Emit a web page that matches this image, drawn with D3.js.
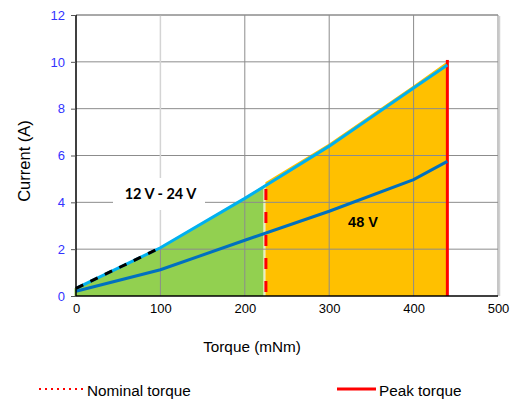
<!DOCTYPE html>
<html>
<head>
<meta charset="utf-8">
<script src="https://cdn.jsdelivr.net/npm/d3@7/dist/d3.min.js"></script>
<style>
  body { margin: 0; background: #fff; }
  svg { display: block; }
  text { font-family: "Liberation Sans", Arial, sans-serif; }
</style>
</head>
<body>
<svg width="513" height="401"></svg>
<script>
// chart data
const torque = [0, 100, 200, 300, 400, 440];
const current1224 = [0.33, 2.06, 4.17, 6.4, 8.88, 9.86];
const current48 = [0.2, 1.12, 2.38, 3.62, 4.97, 5.75];

// shaded operating zones
const greenTorque = [0, 100, 200, 225];
const greenTop = [0.33, 2.06, 4.17, 4.74];
const orangeTorque = [225, 300, 400, 440];
const orangeTop = [4.86, 6.5, 8.98, 10.0];

const nominalTorque = 225, nominalTop = 4.57;
const peakTorque = 440, peakTop = 10.08;

const xTicks = [0, 100, 200, 300, 400, 500];
const yTicks = [0, 2, 4, 6, 8, 10, 12];

const svg = d3.select("svg");
const x = d3.scaleLinear().domain([0, 500]).range([76, 498]);
const y = d3.scaleLinear().domain([0, 12]).range([296, 15]);

// areas
const area = d3.area().x(d => x(d[0])).y0(y(0)).y1(d => y(d[1]));
svg.append("path")
    .attr("d", area(d3.zip(greenTorque, greenTop)))
    .attr("transform", "translate(-1.5,0)")
    .style("fill", "#92D050");
svg.append("path")
    .attr("d", area(d3.zip(orangeTorque, orangeTop)))
    .attr("transform", "translate(-0.5,0)")
    .style("fill", "#FFC000");
// thin pale seam between zones
svg.append("line")
    .attr("x1", x(nominalTorque) - 2).attr("x2", x(nominalTorque) - 2)
    .attr("y1", y(0)).attr("y2", y(4.6))
    .style("stroke", "#fdf6d8").style("stroke-width", 1);

// grid
const grid = svg.append("g");
yTicks.slice(1).forEach(v => {
    grid.append("line")
        .attr("x1", x(0)).attr("x2", x(500))
        .attr("y1", y(v)).attr("y2", y(v))
        .style("stroke", "#8c8c8c").style("stroke-width", 1);
});
xTicks.slice(1, 5).forEach(v => {
    // the 100 line is pale above the curve
    const top = v === 100 ? y(current1224[1]) : y(12);
    if (v === 100) {
        grid.append("line")
            .attr("x1", x(v)).attr("x2", x(v))
            .attr("y1", y(12)).attr("y2", top)
            .style("stroke", "#d4d4d4").style("stroke-width", 1.5);
    }
    grid.append("line")
        .attr("x1", x(v)).attr("x2", x(v))
        .attr("y1", top).attr("y2", y(0))
        .style("stroke", "#8c8c8c").style("stroke-width", 1);
});

// plot frame: grey top/right, black left/bottom
svg.append("line").attr("x1", x(0)).attr("x2", x(500)).attr("y1", y(12)).attr("y2", y(12))
    .style("stroke", "#8c8c8c").style("stroke-width", 1);
svg.append("line").attr("x1", x(500)).attr("x2", x(500)).attr("y1", y(12)).attr("y2", y(0))
    .style("stroke", "#8c8c8c").style("stroke-width", 1);
svg.append("line").attr("x1", x(500) + 1.5).attr("x2", x(500) + 1.5).attr("y1", y(12) + 1).attr("y2", y(0))
    .style("stroke", "#d0d0d0").style("stroke-width", 1.5);

// label box for 12 V - 24 V
svg.append("rect")
    .attr("x", 113).attr("y", 178).attr("width", 92).attr("height", 32)
    .style("fill", "#fff");
svg.append("text")
    .attr("x", 160.5).attr("y", 198.5)
    .attr("text-anchor", "middle")
    .style("font-family", "Lato, 'Open Sans', sans-serif")
    .style("font-weight", "bold").style("font-size", "14.5px")
    .text("12 V - 24 V");

// nominal / peak markers
svg.append("line")
    .attr("x1", x(nominalTorque)).attr("x2", x(nominalTorque))
    .attr("y1", y(nominalTop)).attr("y2", y(0))
    .style("stroke", "#FF0000").style("stroke-width", 3)
    .style("stroke-dasharray", "11,12");
svg.append("line")
    .attr("x1", x(peakTorque)).attr("x2", x(peakTorque))
    .attr("y1", y(peakTop)).attr("y2", y(0))
    .style("stroke", "#FF0000").style("stroke-width", 3);

// curves
const line = d3.line().x(d => x(d[0])).y(d => y(d[1]));
svg.append("path")
    .attr("d", line(d3.zip(torque, current48)))
    .style("fill", "none").style("stroke", "#0070C0").style("stroke-width", 3);
svg.append("path")
    .attr("d", line(d3.zip(torque, current1224)))
    .style("fill", "none").style("stroke", "#00B0F0").style("stroke-width", 3);
// dashed start of the upper curve
const first = d3.zip(torque.slice(0, 2), current1224.slice(0, 2));
svg.append("path")
    .attr("d", line(first))
    .style("fill", "none").style("stroke", "#000").style("stroke-width", 3)
    .style("stroke-dasharray", "8,8");

svg.append("text")
    .attr("x", 363).attr("y", 227)
    .attr("text-anchor", "middle")
    .style("font-weight", "bold").style("font-size", "14.5px")
    .text("48 V");

// axes
svg.append("line").attr("x1", x(0)).attr("x2", x(0)).attr("y1", y(12)).attr("y2", y(0))
    .style("stroke", "#000").style("stroke-width", 1.5);
svg.append("line").attr("x1", x(0)).attr("x2", x(500)).attr("y1", y(0)).attr("y2", y(0))
    .style("stroke", "#000").style("stroke-width", 1.5);

const yAxis = svg.append("g")
    .attr("transform", `translate(${x(0)},0)`)
    .call(d3.axisLeft(y).tickValues(yTicks).tickSize(5).tickPadding(6));
yAxis.select(".domain").remove();
yAxis.selectAll(".tick line").style("stroke", "#555");
yAxis.selectAll(".tick text")
    .style("font-family", "'Liberation Sans', Arial, sans-serif")
    .style("font-size", "13px").style("fill", "#3333FF");

const xAxis = svg.append("g")
    .attr("transform", `translate(0,${y(0)})`)
    .call(d3.axisBottom(x).tickValues(xTicks).tickSize(0).tickPadding(8));
xAxis.select(".domain").remove();
xAxis.selectAll(".tick text")
    .style("font-family", "'Liberation Sans', Arial, sans-serif")
    .style("font-size", "13px").style("fill", "#000");

// axis titles
svg.append("text")
    .attr("transform", "translate(30,161) rotate(-90)")
    .attr("text-anchor", "middle")
    .style("font-size", "16.5px")
    .text("Current (A)");
svg.append("text")
    .attr("x", 252).attr("y", 351.5)
    .attr("text-anchor", "middle")
    .style("font-size", "15.3px")
    .text("Torque (mNm)");

// legend
const legend = svg.append("g");
legend.append("line")
    .attr("x1", 39).attr("x2", 83).attr("y1", 389).attr("y2", 389)
    .style("stroke", "#FF0000").style("stroke-width", 2)
    .style("stroke-dasharray", "2,4");
legend.append("text")
    .attr("x", 87).attr("y", 396)
    .style("font-size", "15.3px")
    .text("Nominal torque");
legend.append("line")
    .attr("x1", 337).attr("x2", 376).attr("y1", 389).attr("y2", 389)
    .style("stroke", "#FF0000").style("stroke-width", 3);
legend.append("text")
    .attr("x", 379).attr("y", 396)
    .style("font-size", "15.3px")
    .text("Peak torque");
</script>
</body>
</html>
